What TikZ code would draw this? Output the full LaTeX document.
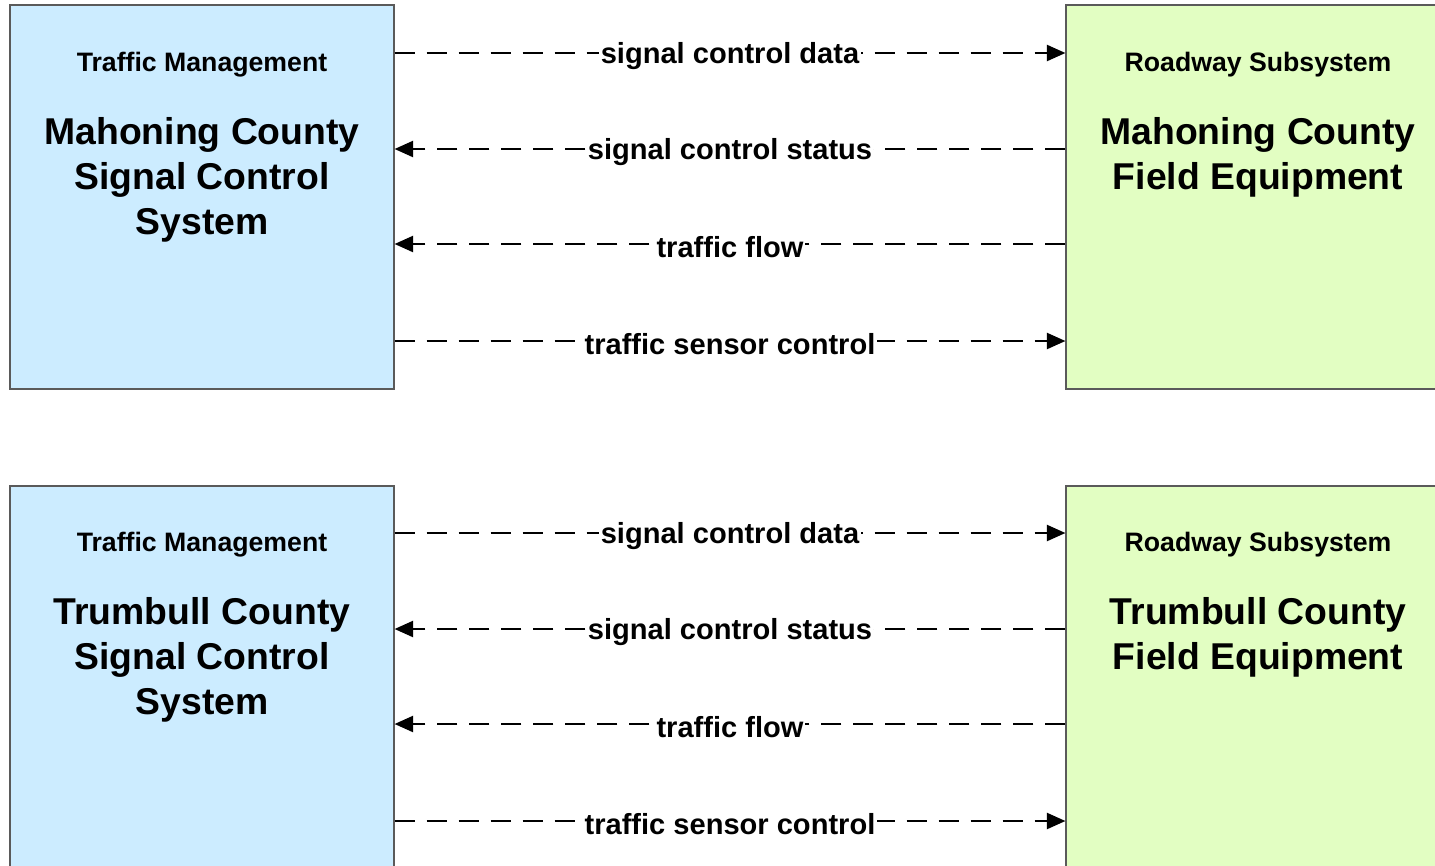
\documentclass[tikz,border=0pt]{standalone}
\usepackage{fontspec}
\setmainfont{Liberation Sans}
\usetikzlibrary{arrows.meta}
\definecolor{tmblue}{RGB}{204,236,255}
\definecolor{rsgreen}{RGB}{226,254,194}
\definecolor{edge}{RGB}{90,90,90}
\tikzset{
  sysbox/.style={draw=edge, line width=0.8pt, minimum width=288pt, minimum height=288pt, inner sep=0pt},
  tmbox/.style={sysbox, fill=tmblue},
  rsbox/.style={sysbox, fill=rsgreen},
  cls/.style={font=\bfseries\fontsize{20}{24}\selectfont},
  sysname/.style={font=\bfseries\fontsize{28}{33.75}\selectfont, align=center},
  flow/.style={line width=1.9pt, dash pattern=on 15pt off 9pt, -{Triangle[length=14pt,width=12pt]}},
  lbl/.style={fill=white, inner sep=1pt, yshift=-2.2pt, font=\bfseries\fontsize{21.8}{26}\selectfont}
}
\begin{document}
\begin{tikzpicture}[x=0.75pt,y=-0.75pt]
\useasboundingbox (0,0) rectangle (1435,865);
\clip (0,0) rectangle (1435,865);
% top pair
\node[tmbox] (L1) at (202,197) {};
\node[rsbox] (R1) at (1258,197) {};
\node[cls] (L1c) at (202,65) {Traffic Management};
\node[sysname] (L1n) at (202,180) {Mahoning County\\Signal Control\\System};
\node[cls] (R1c) at (1258,65) {Roadway Subsystem};
\node[sysname] (R1n) at (1258,157.5) {Mahoning County\\Field Equipment};
\draw[flow] (L1.east |- 0,53) -- node[lbl]{signal control data} (R1.west |- 0,53);
\draw[flow] (R1.west |- 0,149) -- node[lbl]{signal control status} (L1.east |- 0,149);
\draw[flow] (R1.west |- 0,244) -- node[lbl]{traffic flow} (L1.east |- 0,244);
\draw[flow] (L1.east |- 0,341) -- node[lbl]{traffic sensor control} (R1.west |- 0,341);
% bottom pair
\node[tmbox] (L2) at (202,678) {};
\node[rsbox] (R2) at (1258,678) {};
\node[cls] (L2c) at (202,545) {Traffic Management};
\node[sysname] (L2n) at (202,660) {Trumbull County\\Signal Control\\System};
\node[cls] (R2c) at (1258,545) {Roadway Subsystem};
\node[sysname] (R2n) at (1258,637.5) {Trumbull County\\Field Equipment};
\draw[flow] (L2.east |- 0,533) -- node[lbl]{signal control data} (R2.west |- 0,533);
\draw[flow] (R2.west |- 0,629) -- node[lbl]{signal control status} (L2.east |- 0,629);
\draw[flow] (R2.west |- 0,724) -- node[lbl]{traffic flow} (L2.east |- 0,724);
\draw[flow] (L2.east |- 0,821) -- node[lbl]{traffic sensor control} (R2.west |- 0,821);
\end{tikzpicture}
\end{document}
